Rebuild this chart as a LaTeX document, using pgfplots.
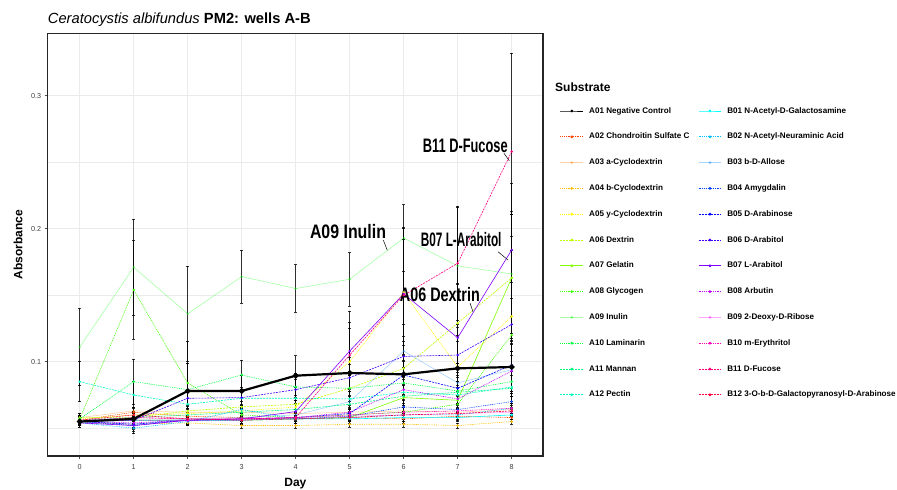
\documentclass[border=0pt]{standalone}
\usepackage{fontspec}
\setmainfont{Liberation Sans}
\usepackage{graphicx}
\usepackage{pgfplots}
\pgfplotsset{compat=1.18}

% rainbow(24) colours, A01 drawn in black
\definecolor{cA02}{HTML}{FF4000}
\definecolor{cA03}{HTML}{FF8000}
\definecolor{cA04}{HTML}{FFBF00}
\definecolor{cA05}{HTML}{FFFF00}
\definecolor{cA06}{HTML}{BFFF00}
\definecolor{cA07}{HTML}{80FF00}
\definecolor{cA08}{HTML}{40FF00}
\definecolor{cA09}{HTML}{00FF00}
\definecolor{cA10}{HTML}{00FF40}
\definecolor{cA11}{HTML}{00FF80}
\definecolor{cA12}{HTML}{00FFBF}
\definecolor{cB01}{HTML}{00FFFF}
\definecolor{cB02}{HTML}{00BFFF}
\definecolor{cB03}{HTML}{0080FF}
\definecolor{cB04}{HTML}{0040FF}
\definecolor{cB05}{HTML}{0000FF}
\definecolor{cB06}{HTML}{4000FF}
\definecolor{cB07}{HTML}{8000FF}
\definecolor{cB08}{HTML}{BF00FF}
\definecolor{cB09}{HTML}{FF00FF}
\definecolor{cB10}{HTML}{FF00BF}
\definecolor{cB11}{HTML}{FF0080}
\definecolor{cB12}{HTML}{FF0040}

\tikzset{
  base/.style={line width=0.6pt, mark=*, mark size=0.9pt, mark options={solid}},
  dot/.style={dash pattern=on 0.9pt off 0.9pt},
  dsh/.style={dash pattern=on 2pt off 1pt},
  faded/.style={opacity=0.35},
  sA01/.style={base, color=black},
  sA02/.style={base, color=cA02, dot},
  sA03/.style={base, color=cA03, faded},
  sA04/.style={base, color=cA04, dot},
  sA05/.style={base, color=cA05, dot},
  sA06/.style={base, color=cA06, dsh},
  sA07/.style={base, color=cA07},
  sA08/.style={base, color=cA08, dot},
  sA09/.style={base, color=cA09, faded},
  sA10/.style={base, color=cA10, dot},
  sA11/.style={base, color=cA11, dsh},
  sA12/.style={base, color=cA12, dsh},
  sB01/.style={base, color=cB01},
  sB02/.style={base, color=cB02, dot},
  sB03/.style={base, color=cB03, faded},
  sB04/.style={base, color=cB04, dot},
  sB05/.style={base, color=cB05, dsh},
  sB06/.style={base, color=cB06, dsh},
  sB07/.style={base, color=cB07},
  sB08/.style={base, color=cB08, dot},
  sB09/.style={base, color=cB09, faded},
  sB10/.style={base, color=cB10, dot},
  sB11/.style={base, color=cB11, dsh},
  sB12/.style={base, color=cB12, dsh},
  lbl/.style={font=\fontsize{19.5}{21}\selectfont\bfseries, inner sep=0pt},
}
\pgfplotsset{
  eb/.style={
    /pgfplots/error bars/y dir=both,
    /pgfplots/error bars/y explicit,
    /pgfplots/error bars/error bar style={black, solid, line width=0.6pt, opacity=0.8},
    /pgfplots/error bars/error mark options={black, solid, rotate=90, mark size=1.5pt, line width=0.6pt, opacity=0.8},
  },
}

\begin{document}
\begin{tikzpicture}
\path[use as bounding box] (0,0) rectangle (897pt,-490pt);
\begin{axis}[
  at={(47.7pt,-456pt)}, anchor=south west,
  width=495.3pt, height=422.7pt, scale only axis,
  xmin=-0.593, xmax=8.58,
  ymin=0.0291, ymax=0.3469,
  xtick={0,...,8},
  ytick={0.1,0.2,0.3}, yticklabels={0.1,0.2,0.3},
  minor ytick={0.05,0.15,0.25},
  grid=both,
  major grid style={color=black!8, line width=0.8pt},
  minor grid style={color=black!8, line width=0.8pt},
  tick pos=left, tick align=outside,
  major tick length=3pt, minor tick length=0pt,
  tick style={black!70, line width=0.6pt},
  axis line style={black!85, line width=1.1pt},
  /pgf/number format/assume math mode=true,
  ticklabel style={font=\fontsize{7.2}{8}\selectfont, text=black!75},
  xticklabel style={yshift=-2pt},
  xlabel={Day}, ylabel={Absorbance},
  every axis x label/.style={at={(axis description cs:0.5,-0.066)}, anchor=center, font=\fontsize{12}{14}\selectfont\bfseries},
  every axis y label/.style={at={(axis description cs:-0.06,0.5)}, rotate=90, anchor=center, font=\fontsize{12}{14}\selectfont\bfseries},
  title={\textit{Ceratocystis albifundus} \textbf{PM2: wells A-B}},
  title style={at={(axis description cs:0,1)}, anchor=base west, yshift=4pt, inner sep=0pt, font=\fontsize{14.7}{16}\selectfont},
  legend columns=2,
  legend cell align=left,
  legend image code/.code={\draw[#1, line width=0.9pt, mark repeat=2, mark phase=2] plot coordinates {(0pt,0pt) (11.35pt,0pt) (22.7pt,0pt)};},
  legend style={
    at={(axis description cs:1.0343,0.8253)}, anchor=north west,
    draw=none, fill=none, inner sep=0pt, outer sep=0pt,
    font=\fontsize{8.1}{9}\selectfont\bfseries,
    row sep=18.1pt,
    nodes={inner sep=0pt, text height=6pt, text depth=1.7pt},
    /tikz/every odd column/.style={column sep=5.6pt},
    /tikz/every even column/.style={column sep=8.6pt},
  },
]
\addplot[sA02, eb, forget plot] coordinates {(0,0.056)+-(0,0.003) (1,0.062)+-(0,0.004) (2,0.059)+-(0,0.003) (3,0.058)+-(0,0.003) (4,0.057)+-(0,0.003) (5,0.058)+-(0,0.003) (6,0.057)+-(0,0.003) (7,0.059)+-(0,0.003) (8,0.058)+-(0,0.003)};
\addplot[sA03, eb, forget plot] coordinates {(0,0.058)+-(0,0.003) (1,0.063)+-(0,0.003) (2,0.062)+-(0,0.003) (3,0.062)+-(0,0.003) (4,0.061)+-(0,0.003) (5,0.062)+-(0,0.003) (6,0.063)+-(0,0.003) (7,0.062)+-(0,0.003) (8,0.064)+-(0,0.003)};
\addplot[sA04, eb, forget plot] coordinates {(0,0.054)+-(0,0.002) (1,0.053)+-(0,0.002) (2,0.054)+-(0,0.002) (3,0.052)+-(0,0.002) (4,0.052)+-(0,0.002) (5,0.053)+-(0,0.002) (6,0.053)+-(0,0.002) (7,0.052)+-(0,0.002) (8,0.055)+-(0,0.002)};
\addplot[sA05, eb, forget plot] coordinates {(0,0.057)+-(0,0.003) (1,0.060)+-(0,0.003) (2,0.061)+-(0,0.004) (3,0.063)+-(0,0.004) (4,0.066)+-(0,0.005) (5,0.100)+-(0,0.025) (6,0.152)+-(0,0.040) (7,0.096)+-(0,0.030) (8,0.134)+-(0,0.060)};
\addplot[sA06, eb, forget plot] coordinates {(0,0.058)+-(0,0.003) (1,0.058)+-(0,0.003) (2,0.063)+-(0,0.004) (3,0.066)+-(0,0.004) (4,0.068)+-(0,0.005) (5,0.080)+-(0,0.010) (6,0.095)+-(0,0.020) (7,0.129)+-(0,0.030) (8,0.163)+-(0,0.048)};
\addplot[sA07, eb, forget plot] coordinates {(0,0.055)+-(0,0.003) (1,0.056)+-(0,0.003) (2,0.056)+-(0,0.003) (3,0.056)+-(0,0.003) (4,0.057)+-(0,0.003) (5,0.058)+-(0,0.003) (6,0.073)+-(0,0.010) (7,0.071)+-(0,0.010) (8,0.163)+-(0,0.050)};
\addplot[sA08, eb, forget plot] coordinates {(0,0.057)+-(0,0.003) (1,0.154)+-(0,0.037) (2,0.084)+-(0,0.031) (3,0.060)+-(0,0.005) (4,0.058)+-(0,0.004) (5,0.060)+-(0,0.004) (6,0.062)+-(0,0.005) (7,0.068)+-(0,0.006) (8,0.120)+-(0,0.040)};
\addplot[sA09, eb, forget plot] coordinates {(0,0.111)+-(0,0.029) (1,0.171)+-(0,0.036) (2,0.136)+-(0,0.036) (3,0.164)+-(0,0.020) (4,0.155)+-(0,0.018) (5,0.162)+-(0,0.020) (6,0.193)+-(0,0.025) (7,0.172)+-(0,0.044) (8,0.166)+-(0,0.045)};
\addplot[sA10, eb, forget plot] coordinates {(0,0.057)+-(0,0.003) (1,0.085)+-(0,0.017) (2,0.079)+-(0,0.020) (3,0.090)+-(0,0.011) (4,0.081)+-(0,0.010) (5,0.080)+-(0,0.010) (6,0.084)+-(0,0.012) (7,0.078)+-(0,0.010) (8,0.085)+-(0,0.020)};
\addplot[sA11, eb, forget plot] coordinates {(0,0.056)+-(0,0.003) (1,0.058)+-(0,0.004) (2,0.060)+-(0,0.004) (3,0.062)+-(0,0.004) (4,0.064)+-(0,0.005) (5,0.068)+-(0,0.006) (6,0.074)+-(0,0.008) (7,0.077)+-(0,0.008) (8,0.080)+-(0,0.010)};
\addplot[sA12, eb, forget plot] coordinates {(0,0.085)+-(0,0.015) (1,0.075)+-(0,0.010) (2,0.068)+-(0,0.010) (3,0.0725)+-(0,0.008) (4,0.0725)+-(0,0.008) (5,0.072)+-(0,0.008) (6,0.077)+-(0,0.010) (7,0.075)+-(0,0.010) (8,0.081)+-(0,0.012)};
\addplot[sB01, eb, forget plot] coordinates {(0,0.055)+-(0,0.003) (1,0.056)+-(0,0.003) (2,0.056)+-(0,0.003) (3,0.056)+-(0,0.003) (4,0.057)+-(0,0.003) (5,0.057)+-(0,0.003) (6,0.058)+-(0,0.003) (7,0.058)+-(0,0.003) (8,0.060)+-(0,0.003)};
\addplot[sB02, eb, forget plot] coordinates {(0,0.054)+-(0,0.003) (1,0.050)+-(0,0.004) (2,0.055)+-(0,0.003) (3,0.064)+-(0,0.004) (4,0.057)+-(0,0.003) (5,0.058)+-(0,0.003) (6,0.060)+-(0,0.003) (7,0.060)+-(0,0.003) (8,0.065)+-(0,0.004)};
\addplot[sB03, eb, forget plot] coordinates {(0,0.055)+-(0,0.003) (1,0.053)+-(0,0.003) (2,0.057)+-(0,0.003) (3,0.058)+-(0,0.003) (4,0.060)+-(0,0.004) (5,0.070)+-(0,0.010) (6,0.108)+-(0,0.020) (7,0.084)+-(0,0.015) (8,0.094)+-(0,0.020)};
\addplot[sB04, eb, forget plot] coordinates {(0,0.055)+-(0,0.003) (1,0.052)+-(0,0.003) (2,0.056)+-(0,0.003) (3,0.057)+-(0,0.003) (4,0.057)+-(0,0.003) (5,0.059)+-(0,0.003) (6,0.066)+-(0,0.005) (7,0.064)+-(0,0.005) (8,0.070)+-(0,0.006)};
\addplot[sB05, eb, forget plot] coordinates {(0,0.055)+-(0,0.003) (1,0.053)+-(0,0.003) (2,0.056)+-(0,0.003) (3,0.057)+-(0,0.003) (4,0.058)+-(0,0.003) (5,0.061)+-(0,0.005) (6,0.090)+-(0,0.015) (7,0.080)+-(0,0.012) (8,0.0975)+-(0,0.020)};
\addplot[sB06, eb, forget plot] coordinates {(0,0.055)+-(0,0.003) (1,0.056)+-(0,0.004) (2,0.0725)+-(0,0.006) (3,0.073)+-(0,0.006) (4,0.079)+-(0,0.008) (5,0.088)+-(0,0.010) (6,0.104)+-(0,0.015) (7,0.105)+-(0,0.015) (8,0.128)+-(0,0.020)};
\addplot[sB07, eb, forget plot] coordinates {(0,0.054)+-(0,0.003) (1,0.052)+-(0,0.004) (2,0.056)+-(0,0.003) (3,0.057)+-(0,0.003) (4,0.0625)+-(0,0.006) (5,0.108)+-(0,0.030) (6,0.151)+-(0,0.050) (7,0.118)+-(0,0.040) (8,0.184)+-(0,0.050)};
\addplot[sB08, eb, forget plot] coordinates {(0,0.055)+-(0,0.003) (1,0.054)+-(0,0.003) (2,0.056)+-(0,0.003) (3,0.056)+-(0,0.003) (4,0.058)+-(0,0.003) (5,0.062)+-(0,0.005) (6,0.079)+-(0,0.010) (7,0.072)+-(0,0.010) (8,0.093)+-(0,0.015)};
\addplot[sB09, eb, forget plot] coordinates {(0,0.056)+-(0,0.003) (1,0.058)+-(0,0.003) (2,0.057)+-(0,0.003) (3,0.057)+-(0,0.003) (4,0.058)+-(0,0.003) (5,0.059)+-(0,0.003) (6,0.060)+-(0,0.003) (7,0.061)+-(0,0.003) (8,0.062)+-(0,0.003)};
\addplot[sB10, eb, forget plot] coordinates {(0,0.055)+-(0,0.003) (1,0.056)+-(0,0.003) (2,0.056)+-(0,0.003) (3,0.057)+-(0,0.003) (4,0.058)+-(0,0.003) (5,0.060)+-(0,0.003) (6,0.062)+-(0,0.004) (7,0.063)+-(0,0.004) (8,0.065)+-(0,0.004)};
\addplot[sB11, eb, forget plot] coordinates {(0,0.055)+-(0,0.003) (1,0.058)+-(0,0.004) (2,0.057)+-(0,0.003) (3,0.057)+-(0,0.003) (4,0.058)+-(0,0.004) (5,0.105)+-(0,0.025) (6,0.150)+-(0,0.050) (7,0.174)+-(0,0.043) (8,0.258)+-(0,0.074)};
\addplot[sB12, eb, forget plot] coordinates {(0,0.056)+-(0,0.003) (1,0.060)+-(0,0.003) (2,0.057)+-(0,0.003) (3,0.056)+-(0,0.003) (4,0.057)+-(0,0.003) (5,0.058)+-(0,0.003) (6,0.060)+-(0,0.003) (7,0.061)+-(0,0.003) (8,0.063)+-(0,0.003)};
% negative control on top
\addplot[sA01, line width=2.2pt, mark size=1.6pt, eb, forget plot] coordinates {(0,0.055)+-(0,0.003) (1,0.057)+-(0,0.004) (2,0.078)+-(0,0.021) (3,0.078)+-(0,0.012) (4,0.0895)+-(0,0.015) (5,0.0915)+-(0,0.012) (6,0.0905)+-(0,0.015) (7,0.095)+-(0,0.020) (8,0.096)+-(0,0.020)};

% legend, filled row by row: A column left, B column right
\addlegendimage{sA01}\addlegendentry{A01 Negative Control}
\addlegendimage{sB01}\addlegendentry{B01 N-Acetyl-D-Galactosamine}
\addlegendimage{sA02}\addlegendentry{A02 Chondroitin Sulfate C}
\addlegendimage{sB02}\addlegendentry{B02 N-Acetyl-Neuraminic Acid}
\addlegendimage{sA03}\addlegendentry{A03 a-Cyclodextrin}
\addlegendimage{sB03}\addlegendentry{B03 b-D-Allose}
\addlegendimage{sA04}\addlegendentry{A04 b-Cyclodextrin}
\addlegendimage{sB04}\addlegendentry{B04 Amygdalin}
\addlegendimage{sA05}\addlegendentry{A05 y-Cyclodextrin}
\addlegendimage{sB05}\addlegendentry{B05 D-Arabinose}
\addlegendimage{sA06}\addlegendentry{A06 Dextrin}
\addlegendimage{sB06}\addlegendentry{B06 D-Arabitol}
\addlegendimage{sA07}\addlegendentry{A07 Gelatin}
\addlegendimage{sB07}\addlegendentry{B07 L-Arabitol}
\addlegendimage{sA08}\addlegendentry{A08 Glycogen}
\addlegendimage{sB08}\addlegendentry{B08 Arbutin}
\addlegendimage{sA09}\addlegendentry{A09 Inulin}
\addlegendimage{sB09}\addlegendentry{B09 2-Deoxy-D-Ribose}
\addlegendimage{sA10}\addlegendentry{A10 Laminarin}
\addlegendimage{sB10}\addlegendentry{B10 m-Erythritol}
\addlegendimage{sA11}\addlegendentry{A11 Mannan}
\addlegendimage{sB11}\addlegendentry{B11 D-Fucose}
\addlegendimage{sA12}\addlegendentry{A12 Pectin}
\addlegendimage{sB12}\addlegendentry{B12 3-O-b-D-Galactopyranosyl-D-Arabinose}

% repel-style labels
\node[lbl] at (axis cs:7.141,0.2622) {\scalebox{0.658}[1]{B11 D-Fucose}};
\node[lbl] at (axis cs:4.969,0.1976) {\scalebox{0.816}[1]{A09 Inulin}};
\node[lbl] at (axis cs:7.065,0.1915) {\scalebox{0.605}[1]{B07 L-Arabitol}};
\node[lbl] at (axis cs:6.67,0.1508) {\scalebox{0.738}[1]{A06 Dextrin}};
\draw[black, line width=0.5pt] (axis cs:7.857,0.2567) -- (axis cs:7.956,0.2511);
\draw[black, line width=0.5pt] (axis cs:5.622,0.1915) -- (axis cs:5.696,0.1838);
\draw[black, line width=0.5pt] (axis cs:7.746,0.1827) -- (axis cs:7.931,0.1765);
\draw[black, line width=0.5pt] (axis cs:7.228,0.1441) -- (axis cs:7.283,0.1376);
\end{axis}
\node[anchor=base west, inner sep=0pt, font=\fontsize{12}{14}\selectfont\bfseries] at (555pt,-91.3pt) {Substrate};
\end{tikzpicture}
\end{document}
